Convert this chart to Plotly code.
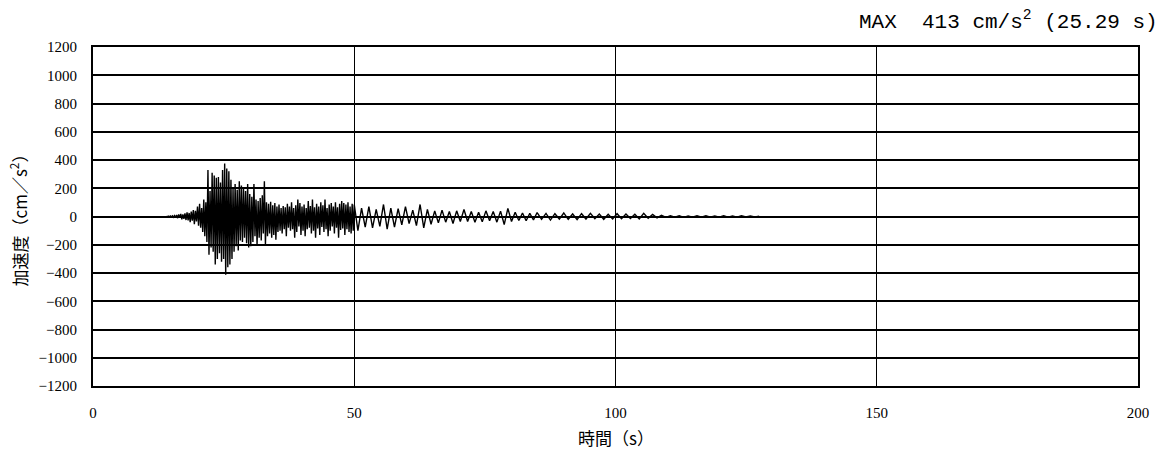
import numpy as np
import plotly.graph_objects as go

# --- data (time in s, acceleration in cm/s^2) ---
seg1_t0, seg1_dt = 14.0, 0.2
seg1_vals = [
    2, -3, 3, -2, 4, -4, 5, -5, 6, -8,
    10, -12, 15, -10, 18, -20, 14, -16, 22, -25,
    30, -28, 25, -40, 35, -30, 45, -55, 40, -35,
    70, -65, 90, -80, 60, -110, 120, -140, 100, -180,
    330, -270, 180, -220, 310, -250, 290, -340, 275, -300,
    280, -260, 240, -320, 330, -300, 375, -413, 340, -360,
    320, -340, 260, -300, 200, -250, 230, -210, 190, -240,
    250, -170, 220, -180, 200, -150, 180, -190, 230, -220,
    160, -210, 140, -180, 230, -140, 120, -200, 110, -150,
    130, -170, 150, -120, 250, -200, 100, -140, 90, -120,
    105, -150, 80, -130, 95, -165, 70, -110, 85, -100,
    60, -120, 75, -90, 65, -140, 90, -80, 70, -100,
    100, -90, 60, -150, 80, -110, 120, -70, 95, -130,
    70, -100, 85, -140, 60, -90, 110, -80, 75, -120,
    120, -100, 65, -150, 90, -85, 70, -130, 100, -75,
    80, -110, 120, -90, 60, -140, 85, -100, 95, -70,
    70, -120, 100, -80, 65, -150, 90, -95, 110, -85,
    95, -130, 85, -90, 100, -110, 70, -120, 90, -100,
]
seg2_t0, seg2_dt = 50.0, 0.7
seg2_vals = [
    85, -100, 60, -75, 70, -80, 50, -70, 85, -90,
    60, -75, 55, -60, 70, -50, 45, -65, 85, -80,
    50, -55, 40, -45, 45, -40, 35, -50, 40, -35,
    50, -35, 35, -40, 30, -38, 40, -30, 35, -40,
    38, -57, 57, -35, 30, -28, 25, -30, 22, -25,
]
seg3_t0, seg3_dt = 85.0, 0.85
seg3_vals = [
    28, -20, 22, -25, 20, -18, 25, -20, 18, -22,
    20, -18, 22, -15, 18, -20, 15, -18, 20, -15,
    18, -14, 16, -18, 22, -12, 15, -10, 8, -6,
    6, -5, 5, -6, 4, -5, 5, -4, 6, -5,
    4, -5, 5, -4, 3, -4, 5, -3, 4, -3, 2,
]

x_ticks = [0, 50, 100, 150, 200]
y_ticks = list(range(-1200, 1201, 200))
title_text = "MAX  413 cm/s<sup>2</sup> (25.29 s)"
x_title = "時間（s）"
y_title = "加速度（cm／s<sup>2</sup>）"

t = []
a = []
for t0, dt, vals in [(seg1_t0, seg1_dt, seg1_vals), (seg2_t0, seg2_dt, seg2_vals), (seg3_t0, seg3_dt, seg3_vals)]:
    for i, v in enumerate(vals):
        t.append(round(t0 + i * dt, 3))
        a.append(v)

fig = go.Figure()
fig.add_trace(go.Scatter(x=t, y=a, mode="lines",
                         line=dict(color="black", width=1.4), showlegend=False))

serif = "Liberation Serif, Noto Sans CJK JP"
fig.update_layout(
    width=1165, height=449,
    margin=dict(l=93, r=27, t=47, b=63, autoexpand=False),
    paper_bgcolor="white", plot_bgcolor="white",
    font=dict(family=serif, color="black", size=15),
    xaxis=dict(range=[0, 200], tickvals=x_ticks, showgrid=True, gridcolor="black",
               gridwidth=1.3, zeroline=False, showline=True, linecolor="black",
               linewidth=2, mirror=True, ticks="", ticklabelstandoff=12,
               automargin=False, tickfont=dict(family=serif, size=15)),
    yaxis=dict(range=[-1200, 1200], tickvals=y_ticks, showgrid=True, gridcolor="black",
               gridwidth=1.6, zeroline=False, showline=True, linecolor="black",
               linewidth=2, mirror=True, ticks="", ticklabelstandoff=11,
               automargin=False, tickfont=dict(family=serif, size=15)),
)
fig.add_annotation(text=title_text, xref="paper", yref="paper", x=1, y=1,
                   xanchor="right", yanchor="middle", xshift=22, yshift=27,
                   showarrow=False, font=dict(family="Liberation Mono", size=21, color="black"))
fig.add_annotation(text=x_title, xref="paper", yref="paper", x=0.5, y=0,
                   xanchor="center", yanchor="middle", yshift=-51,
                   showarrow=False, font=dict(family="Noto Sans CJK JP", size=17, color="black"))
fig.add_annotation(text=y_title, xref="paper", yref="paper", x=0, y=0.5,
                   xanchor="center", yanchor="middle", xshift=-75, textangle=-90,
                   showarrow=False, font=dict(family="Noto Sans CJK JP", size=17, color="black"))

fig.write_html("out.html", config={"displayModeBar": False},
               post_script="document.body.style.margin='0';document.body.style.padding='0';")
